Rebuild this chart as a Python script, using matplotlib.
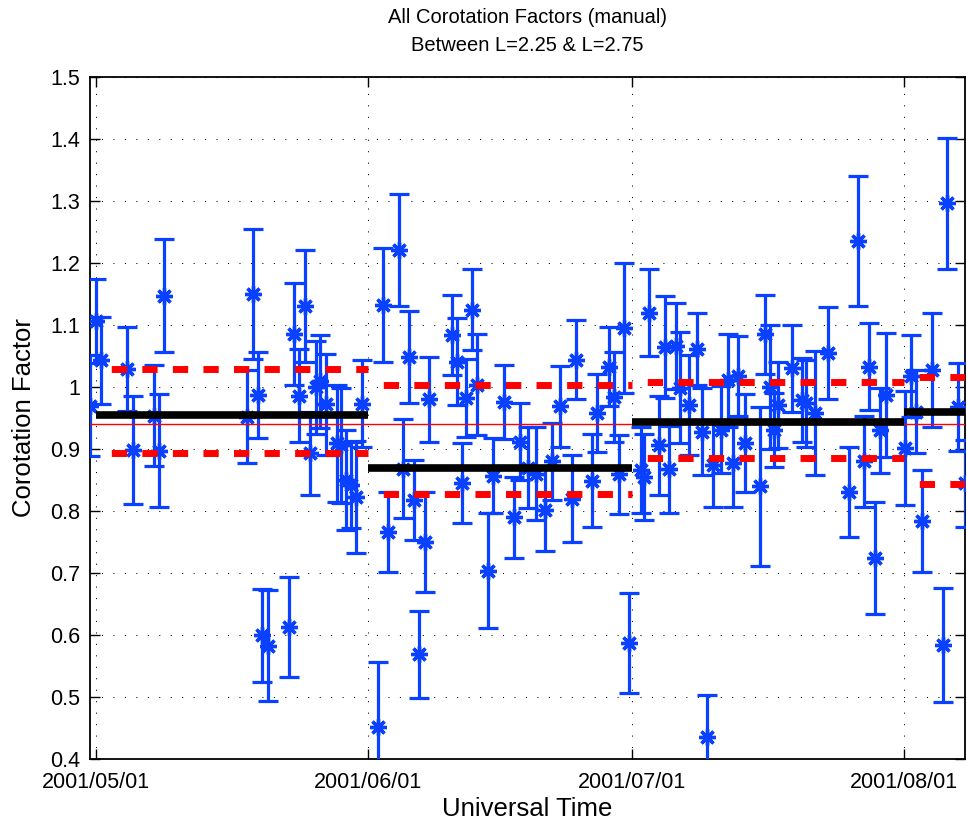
"""
Corotation factors (manual picks), L = 2.25 .. 2.75, May - Aug 2001.
Per-month statistics drawn as black/red bars over the individual estimates.
"""

import numpy as np
import pandas as pd
import matplotlib
matplotlib.use('Agg')
import matplotlib.pyplot as plt
import matplotlib.dates as mdates

plt.rcParams['font.family'] = ['Liberation Sans', 'DejaVu Sans']

# Время событий: сутки от 2001/05/01 00:00 UT
days = [
    -0.72, -0.03, 0.54, 3.53, 4.15, 6.58, 7.15, 7.68,
    17.21, 17.83, 18.46, 18.85, 19.53, 21.96, 22.53, 23.14,
    23.75, 24.36, 25.04, 25.50, 26.15, 27.40, 27.89, 28.46,
    28.99, 29.60, 30.32,
    32.03, 32.64, 33.28, 34.53, 34.99, 35.67, 36.24, 36.81,
    37.46, 37.95, 40.51, 41.08, 41.65, 42.14, 42.79, 43.36,
    44.61, 45.18, 46.39, 47.53, 48.21, 49.20, 50.11, 51.14,
    51.90, 52.85, 54.18, 54.67, 56.46, 57.03, 58.35, 58.92,
    59.49, 60.06, 60.64,
    62.00, 62.34, 62.91, 64.10, 64.80, 65.20, 66.00, 66.50,
    67.50, 68.40, 69.00, 69.60, 70.20, 71.10, 72.00, 72.50,
    73.10, 73.90, 75.60, 76.20, 76.70, 77.20, 77.70, 79.20,
    80.40, 80.80, 81.90, 83.30, 85.70, 86.80, 87.40, 88.00,
    88.70, 89.30, 89.90,
    92.10, 92.80, 93.40, 94.10, 95.20, 96.40, 96.90, 98.20,
    98.95,
]

factor = [
    0.970, 1.106, 1.043, 1.029, 0.899, 0.954, 0.897, 1.147,
    0.952, 1.150, 0.987, 0.600, 0.583, 0.613, 1.085, 0.986,
    1.131, 0.893, 1.000, 1.009, 0.972, 0.909, 0.906, 0.850,
    0.842, 0.823, 0.973,
    0.451, 1.133, 0.766, 1.221, 0.868, 1.049, 0.818, 0.569,
    0.750, 0.980, 1.084, 1.041, 0.845, 0.982, 1.125, 1.004,
    0.704, 0.857, 0.976, 0.790, 0.912, 0.870, 0.860, 0.802,
    0.880, 0.969, 0.820, 1.044, 0.849, 0.958, 1.033, 0.984,
    0.859, 1.095, 0.587,
    0.866, 0.855, 1.120, 0.906, 1.065, 0.867, 1.066, 0.999,
    0.971, 1.062, 0.928, 0.435, 0.874, 0.931, 1.011, 0.877,
    1.018, 0.910, 0.840, 1.085, 1.000, 0.931, 0.971, 1.030,
    0.979, 0.974, 0.958, 1.055, 0.831, 1.235, 0.880, 1.033,
    0.724, 0.930, 0.987,
    0.901, 1.018, 0.960, 0.784, 1.027, 0.584, 1.296, 0.968,
    0.845,
]

factor_err = [
    0.082, 0.068, 0.070, 0.068, 0.087, 0.081, 0.091, 0.091,
    0.075, 0.105, 0.069, 0.075, 0.090, 0.081, 0.082, 0.075,
    0.090, 0.067, 0.075, 0.075, 0.082, 0.094, 0.093, 0.080,
    0.070, 0.090, 0.070,
    0.105, 0.092, 0.065, 0.091, 0.080, 0.074, 0.065, 0.070,
    0.081, 0.069, 0.065, 0.070, 0.065, 0.063, 0.065, 0.081,
    0.092, 0.060, 0.060, 0.065, 0.062, 0.065, 0.075, 0.066,
    0.062, 0.065, 0.070, 0.064, 0.075, 0.063, 0.063, 0.072,
    0.064, 0.105, 0.081,
    0.070, 0.070, 0.070, 0.080, 0.082, 0.070, 0.070, 0.090,
    0.080, 0.058, 0.070, 0.068, 0.068, 0.070, 0.075, 0.070,
    0.065, 0.079, 0.128, 0.064, 0.100, 0.060, 0.070, 0.070,
    0.068, 0.070, 0.100, 0.074, 0.073, 0.105, 0.073, 0.070,
    0.090, 0.069, 0.100,
    0.092, 0.066, 0.067, 0.082, 0.092, 0.092, 0.105, 0.071,
    0.070,
]

# Помесячная статистика
month_start = ['2001-05-01', '2001-06-01', '2001-07-01', '2001-08-01']
month_end = ['2001-06-01', '2001-07-01', '2001-08-01', '2001-08-07 22:48']
month_mean = [0.955, 0.869, 0.944, 0.960]
month_upper = [1.029, 1.004, 1.008, 1.016]
month_lower = [0.893, 0.827, 0.886, 0.844]
overall_mean = 0.940

month_ticks = ['2001-05-01', '2001-06-01', '2001-07-01', '2001-08-01']


t0 = pd.Timestamp('2001-05-01')
times = t0 + pd.to_timedelta(days, unit='D')

fig = plt.figure(figsize=(9.67, 8.23), dpi=100)
ax = fig.add_axes([90 / 967, 64 / 823, 875 / 967, 682 / 823])

blue = '#0a40ff'
ax.errorbar(times, factor, yerr=factor_err, fmt='none', ecolor=blue,
            elinewidth=2.3, capsize=7, capthick=2.3, zorder=3)
ax.plot(times, factor, linestyle='none', marker=(8, 2, 0), markersize=12,
        markeredgewidth=2.4, color=blue, zorder=4)

# Среднее по всему интервалу
ax.axhline(overall_mean, color='red', linewidth=1.0, zorder=5)

for i in range(len(month_start)):
    x = [pd.Timestamp(month_start[i]), pd.Timestamp(month_end[i])]
    ax.plot(x, [month_mean[i]] * 2, color='black', linewidth=5.5,
            solid_capstyle='butt', zorder=6)
    for level in (month_upper[i], month_lower[i]):
        ax.plot(x, [level] * 2, color='red', linewidth=5,
                linestyle=(2.2, (2.2, 2.2)), dash_capstyle='butt', zorder=6)

ax.set_xlim(times[0], times[-1])
ax.set_ylim(0.4, 1.5)
ax.set_yticks(np.arange(0.4, 1.501, 0.1))
ax.yaxis.set_major_formatter(plt.FuncFormatter(lambda v, p: f'{v:g}'))
ax.set_xticks([pd.Timestamp(m) for m in month_ticks])
ax.xaxis.set_major_formatter(mdates.DateFormatter('%Y/%m/%d'))

ax.grid(True, color='black', linestyle=(0, (1, 10)), linewidth=0.75)
ax.set_axisbelow(True)
ax.tick_params(direction='in', length=7, width=1, top=True, right=True,
               labelsize=15.5)
ax.tick_params(axis='y', pad=7)
ax.tick_params(axis='x', pad=9)
for s in ax.spines.values():
    s.set_linewidth(1.3)

ax.set_title('All Corotation Factors (manual)\nBetween L=2.25 & L=2.75',
             fontsize=14.5, linespacing=1.55, pad=19)
ax.set_xlabel('Universal Time', fontsize=18.5, labelpad=3)
ax.set_ylabel('Corotation Factor', fontsize=18.5, labelpad=10)

fig.savefig('out.png', dpi=100)
